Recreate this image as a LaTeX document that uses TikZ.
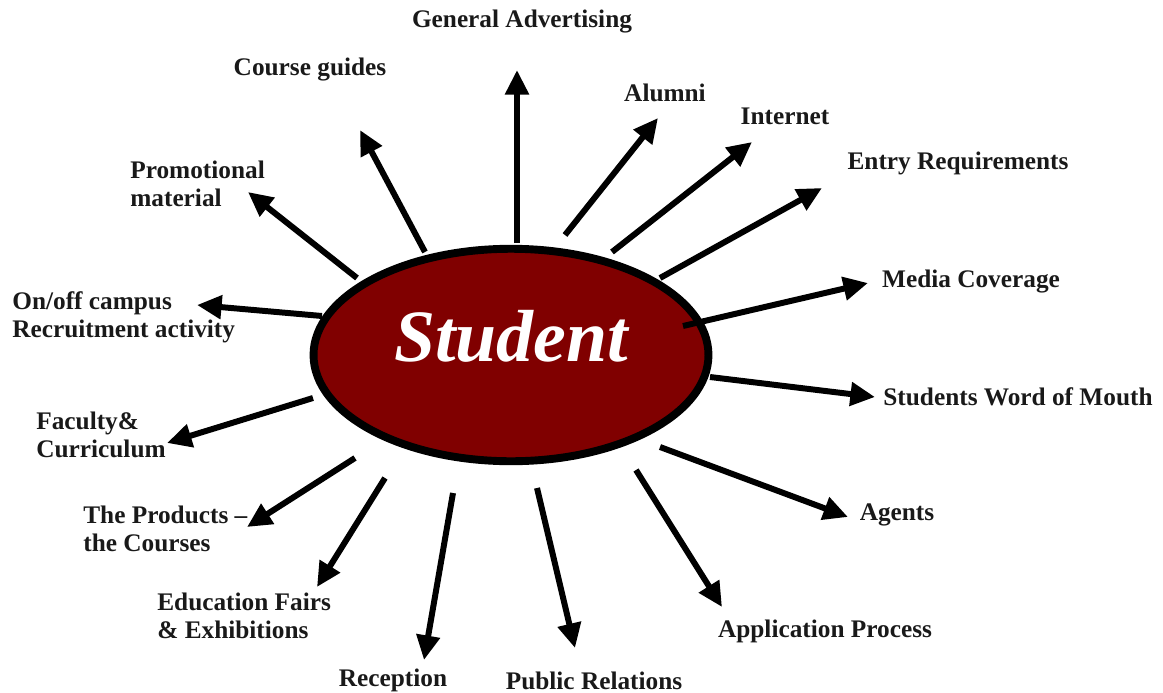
\documentclass[tikz,border=0pt]{standalone}
\usepackage{fontspec}
\setmainfont{Liberation Serif}
\usetikzlibrary{arrows.meta,shapes.geometric}
\definecolor{studentred}{RGB}{128,0,0}
\tikzset{
  lbl/.style={font=\fontsize{14.4}{16}\selectfont\bfseries, inner sep=0pt, align=left, text=black!90},
  spoke/.style={line width=3.4pt, -{Triangle[length=14pt,width=13pt]}}
}
\begin{document}
\begin{tikzpicture}[x=0.02cm,y=-0.02cm]
\useasboundingbox (0,0) rectangle (1163,693);

% centre
\node(student)[ellipse, draw=black, line width=4.5pt, fill=studentred,
			minimum width=7.9cm, minimum height=4.25cm, inner sep=0pt] at (511,355) {};
\node(studenttxt)[text=white, font=\fontsize{42}{42}\selectfont\bfseries\itshape] at (511,336) {Student};

% LABELS
\node(genadv)[lbl] at (522,22) {General Advertising};
\node(guides)[lbl] at (310,70) {Course guides};
\node(promo)[lbl, anchor=west] at (130,184) {Promotional\\material};
\node(campus)[lbl, anchor=west] at (12,317) {On/off campus\\Recruitment activity};
\node(faculty)[lbl, anchor=west] at (36,435) {Faculty\&\\Curriculum};
\node(products)[lbl, anchor=west] at (83,529) {The Products --\\the Courses};
\node(fairs)[lbl, anchor=west] at (157,616) {Education Fairs\\\& Exhibitions};
\node(reception)[lbl] at (393,680) {Reception};
\node(pr)[lbl] at (594,681) {Public Relations};
\node(appl)[lbl] at (825,631) {Application Process};
\node(agents)[lbl] at (897,515) {Agents};
\node(wom)[lbl] at (1018,397) {Students Word of Mouth};
\node(media)[lbl] at (971,282) {Media Coverage};
\node(entry)[lbl] at (958,163) {Entry Requirements};
\node(internet)[lbl] at (785,116) {Internet};
\node(alumni)[lbl] at (665,93) {Alumni};

% arrow ends
\coordinate (s1) at (517,243);  \coordinate (t1) at (517,70);
\coordinate (s2) at (425,252);  \coordinate (t2) at (360,130);
\coordinate (s3) at (357,278);  \coordinate (t3) at (248,192);
\coordinate (s4) at (322,316);  \coordinate (t4) at (197,305);
\coordinate (s5) at (313,398);  \coordinate (t5) at (167,443);
\coordinate (s6) at (355,458);  \coordinate (t6) at (247,527);
\coordinate (s7) at (385,478);  \coordinate (t7) at (317,587);
\coordinate (s8) at (453,493);  \coordinate (t8) at (424,660);
\coordinate (s9) at (537,488);  \coordinate (t9) at (575,648);
\coordinate (s10) at (636,470); \coordinate (t10) at (722,607);
\coordinate (s11) at (660,447); \coordinate (t11) at (848,517);
\coordinate (s12) at (710,377); \coordinate (t12) at (875,397);
\coordinate (s13) at (683,326); \coordinate (t13) at (868,283);
\coordinate (s14) at (660,278); \coordinate (t14) at (822,188);
\coordinate (s15) at (612,252); \coordinate (t15) at (752,142);
\coordinate (s16) at (565,235); \coordinate (t16) at (658,118);

\foreach \i in {1,...,16}
  \draw[spoke] (s\i) -- (t\i);

\end{tikzpicture}
\end{document}
